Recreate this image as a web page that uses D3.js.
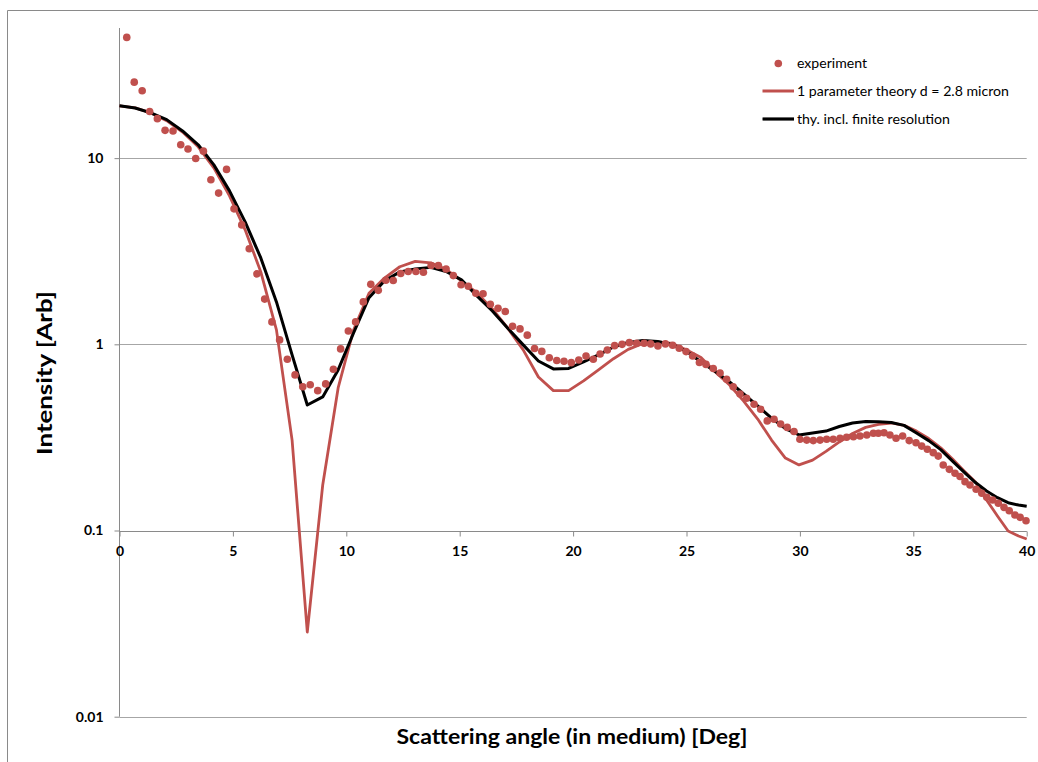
<!DOCTYPE html>
<html>
<head>
<meta charset="utf-8">
<script src="https://cdn.jsdelivr.net/npm/d3@7"></script>
<style>
  html, body { margin: 0; padding: 0; background: #ffffff; }
  svg { display: block; }
  text { font-family: Lato, "Open Sans", "Liberation Sans", sans-serif; fill: #000; }
</style>
</head>
<body>
<svg id="chart" width="1038" height="762"></svg>
<script>
// ---------- data ----------
const expX = [
  0.32,0.65,1.00,1.33,1.67,2.01,2.36,2.70,3.02,3.36,
  3.70,4.03,4.37,4.72,5.05,5.39,5.72,6.06,6.40,6.72,
  7.06,7.40,7.74,8.08,8.41,8.74,9.09,9.43,9.75,10.09,
  10.41,10.75,11.08,11.41,11.74,12.07,12.40,12.73,13.07,13.40,
  13.74,14.06,14.40,14.72,15.06,15.38,15.71,16.03,16.35,16.69,
  17.01,17.33,17.66,17.98,18.30,18.62,18.95,19.28,19.60,19.92,
  20.25,20.57,20.89,21.19,21.51,21.83,22.16,22.48,22.80,23.13,
  23.42,23.74,24.07,24.39,24.68,24.98,25.27,25.57,25.86,26.18,
  26.48,26.77,27.06,27.36,27.65,27.98,28.27,28.56,28.86,29.15,
  29.44,29.74,30.00,30.30,30.59,30.89,31.18,31.47,31.77,32.06,
  32.36,32.65,32.95,33.24,33.46,33.71,33.97,34.24,34.53,34.82,
  35.12,35.37,35.62,35.88,36.10,36.32,36.59,36.84,37.06,37.28,
  37.50,37.77,38.02,38.24,38.50,38.75,39.00,39.23,39.48,39.71,
  39.97
];
const expY = [
  44.5,25.6,23.0,17.8,16.3,14.1,14.0,11.8,11.2,9.95,
  10.9,7.66,6.49,8.70,5.34,4.38,3.26,2.39,1.75,1.32,
  1.056,0.832,0.685,0.592,0.607,0.564,0.613,0.735,0.945,1.18,
  1.32,1.69,2.10,1.95,2.21,2.20,2.40,2.46,2.46,2.44,
  2.65,2.65,2.54,2.34,2.09,2.05,1.88,1.87,1.64,1.56,
  1.50,1.25,1.21,1.12,0.950,0.916,0.847,0.818,0.811,0.797,
  0.824,0.866,0.832,0.888,0.933,0.984,1.00,1.021,1.014,1.014,
  1.005,0.980,1.005,0.989,0.953,0.914,0.866,0.799,0.780,0.742,
  0.702,0.649,0.592,0.541,0.513,0.477,0.448,0.388,0.396,0.373,
  0.358,0.340,0.309,0.306,0.304,0.306,0.309,0.309,0.313,0.317,
  0.319,0.322,0.326,0.333,0.333,0.335,0.326,0.313,0.322,0.304,
  0.296,0.284,0.273,0.262,0.251,0.225,0.213,0.203,0.195,0.183,
  0.1756,0.1665,0.1585,0.1508,0.1458,0.140,0.1332,0.1278,0.1212,0.1177,
  0.1129
];

const thyX = [
  0,0.69,1.38,2.08,2.78,3.47,4.16,4.85,5.54,6.23,
  6.92,7.61,8.28,8.96,9.64,10.32,11.0,11.68,12.36,13.04,
  13.72,14.4,15.08,15.76,16.44,17.12,17.8,18.47,19.13,19.8,
  20.46,21.12,21.78,22.43,23.08,23.73,24.37,25.01,25.64,26.27,
  26.9,27.52,28.14,28.75,29.36,29.96,30.56,31.15,31.74,32.32,
  32.9,33.47,34.03,34.59,35.14,35.68,36.21,36.73,37.24,37.74,
  38.23,38.71,39.18,39.64,40.0
];
const theoryY = [
  19.1,18.6,17.5,15.9,13.8,11.5,8.87,6.27,4.12,2.45,
  1.195,0.306,0.0285,0.1756,0.583,1.195,1.88,2.27,2.61,2.79,
  2.74,2.53,2.19,1.89,1.55,1.22,0.933,0.668,0.564,0.564,
  0.636,0.729,0.837,0.939,1.011,1.030,1.011,0.933,0.850,0.711,
  0.605,0.496,0.397,0.306,0.245,0.225,0.239,0.266,0.299,0.332,
  0.358,0.372,0.378,0.367,0.342,0.312,0.278,0.242,0.209,0.182,
  0.146,0.1197,0.0994,0.0934,0.090
];
const resolvedY = [
  19.1,18.6,17.5,16.1,14.0,11.8,9.20,6.67,4.55,2.91,
  1.69,0.877,0.472,0.522,0.729,1.15,1.78,2.19,2.45,2.54,
  2.59,2.46,2.22,1.82,1.51,1.22,0.993,0.814,0.738,0.742,
  0.804,0.877,0.968,1.024,1.047,1.036,0.999,0.916,0.804,0.715,
  0.628,0.541,0.467,0.402,0.353,0.326,0.334,0.342,0.362,0.378,
  0.385,0.384,0.380,0.367,0.334,0.304,0.272,0.236,0.206,0.181,
  0.163,0.150,0.141,0.137,0.135
];

const xTicks = [0, 5, 10, 15, 20, 25, 30, 35, 40];
const yTicks = [0.01, 0.1, 1, 10];
const yTickLabels = ["0.01", "0.1", "1", "10"];
const seriesNames = ["experiment", "1 parameter theory d = 2.8 micron", "thy. incl. finite resolution"];
const xTitle = "Scattering angle (in medium) [Deg]";
const yTitle = "Intensity [Arb]";

// ---------- drawing ----------
const RED = "#C0504D";
const svg = d3.select("#chart");

const x = d3.scaleLinear().domain([0, 40]).range([119.5, 1026.7]);
const y = d3.scaleLog().domain([0.01, 50]).range([716.7, 28]);

// outer chart frame (only top and left edges are inside the picture)
svg.append("path")
  .attr("d", "M7.5,775V10.5H1050")
  .attr("fill", "none").attr("stroke", "#8a8a8a").attr("stroke-width", 1);

// horizontal gridlines
svg.append("g").selectAll("line").data(yTicks).join("line")
  .attr("x1", x(0)).attr("x2", x(40))
  .attr("y1", d => Math.round(y(d)) + 0.5).attr("y2", d => Math.round(y(d)) + 0.5)
  .attr("stroke", "#a6a6a6").attr("stroke-width", 1.2);

// y axis
const yAxis = d3.axisLeft(y).tickValues(yTicks)
  .tickFormat((d, i) => yTickLabels[i]).tickSize(5).tickPadding(11);
const gy = svg.append("g").attr("transform", `translate(${x(0)},0)`).call(yAxis);
gy.select(".domain").attr("stroke", "#8a8a8a").attr("d", `M-0,${y(50)}V${y(0.01)}`);
gy.selectAll(".tick line").attr("stroke", "#8a8a8a");
gy.selectAll(".tick text").attr("font-size", 14).attr("font-weight", "bold")
  .attr("font-family", "Lato, 'Open Sans', sans-serif").attr("fill", "#000");

// x axis crossing at 0.1
const xAxis = d3.axisBottom(x).tickValues(xTicks).tickSize(5).tickPadding(10);
const gx = svg.append("g").attr("transform", `translate(0,${Math.round(y(0.1)) + 0.5})`).call(xAxis);
gx.select(".domain").attr("stroke", "#8a8a8a").attr("d", `M${x(0)},0H${x(40)}`);
gx.selectAll(".tick line").attr("stroke", "#8a8a8a");
gx.selectAll(".tick text").attr("font-size", 14).attr("font-weight", "bold")
  .attr("font-family", "Lato, 'Open Sans', sans-serif").attr("fill", "#000");

// theory lines
const line = d3.line().x(d => x(d[0])).y(d => y(d[1])).curve(d3.curveLinear);
svg.append("path").datum(thyX.map((v, i) => [v, theoryY[i]]))
  .attr("d", line).attr("fill", "none").attr("stroke", RED)
  .attr("stroke-width", 2.8).attr("stroke-linejoin", "round");
svg.append("path").datum(thyX.map((v, i) => [v, resolvedY[i]]))
  .attr("d", line).attr("fill", "none").attr("stroke", "#000")
  .attr("stroke-width", 3).attr("stroke-linejoin", "round");

// experimental points
svg.append("g").selectAll("circle").data(expX.map((v, i) => [v, expY[i]])).join("circle")
  .attr("cx", d => x(d[0])).attr("cy", d => y(d[1])).attr("r", 3.8).attr("fill", RED);

// axis titles
svg.append("text").attr("x", 572).attr("y", 744).attr("text-anchor", "middle")
  .attr("font-size", 21).attr("font-weight", "bold")
  .attr("textLength", 351).attr("lengthAdjust", "spacingAndGlyphs").text(xTitle);
svg.append("text").attr("transform", "translate(52,373) rotate(-90)").attr("text-anchor", "middle")
  .attr("font-size", 21).attr("font-weight", "bold")
  .attr("textLength", 164).attr("lengthAdjust", "spacingAndGlyphs").text(yTitle);

// legend
const lg = svg.append("g");
lg.append("circle").attr("cx", 778.3).attr("cy", 63.5).attr("r", 3.8).attr("fill", RED);
lg.append("line").attr("x1", 762.5).attr("x2", 794).attr("y1", 91).attr("y2", 91)
  .attr("stroke", RED).attr("stroke-width", 3);
lg.append("line").attr("x1", 762.5).attr("x2", 794).attr("y1", 119).attr("y2", 119)
  .attr("stroke", "#000").attr("stroke-width", 3.2);
const legY = [63.5, 91, 119];
const legW = [70, 212, 153];
lg.selectAll("text.leg").data(seriesNames).join("text").attr("class", "leg")
  .attr("x", 797).attr("y", (d, i) => legY[i] + 4.8)
  .attr("font-size", 13.5).attr("fill", "#111")
  .attr("textLength", (d, i) => legW[i]).attr("lengthAdjust", "spacingAndGlyphs")
  .text(d => d);
</script>
</body>
</html>
